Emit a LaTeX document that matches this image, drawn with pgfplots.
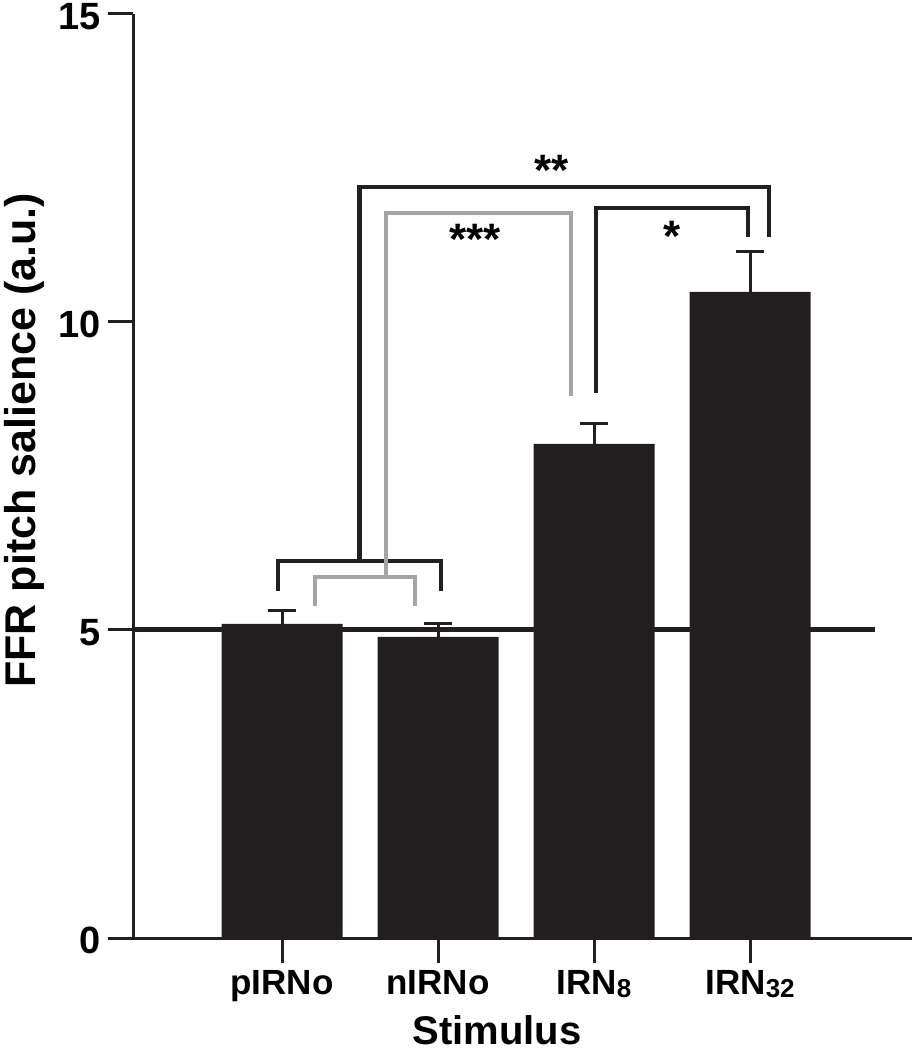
\documentclass[border=0pt]{standalone}
\usepackage{pgfplots}
\pgfplotsset{compat=1.18}
\usepackage{fontspec}
\setmainfont{Liberation Sans}
\definecolor{barblack}{RGB}{35,31,32}
\definecolor{siggray}{RGB}{163,165,168}
\newcommand{\sub}[1]{\raisebox{-1.6pt}{\fontsize{13}{13}\selectfont #1}}

% bar heights and upper error (SEM)
\pgfplotstableread{
x y e
0 5.10 0.21
1 4.89 0.21
2 8.02 0.34
3 10.49 0.66
}\ffrdata

\begin{document}
\begin{tikzpicture}
\begin{axis}[
    x=78pt, y=30.8pt,
    xmin=-0.955, xmax=4.04,
    ymin=0, ymax=15,
    axis x line=bottom, axis y line=left,
    axis line style={-, line width=1.5pt, barblack},
    xtick={0,1,2,3},
    xticklabels={pIRNo, nIRNo, IRN\sub{8}, IRN\sub{32}},
    ytick={0,5,10,15},
    tick align=outside,
    major tick length=12.5pt,
    tick style={line width=1.5pt, barblack},
    /pgf/number format/assume math mode=true,
    yticklabel style={font=\bfseries\fontsize{19}{19}\selectfont, yshift=-1.2pt},
    xticklabel style={font=\bfseries\fontsize{17.5}{17.5}\selectfont},
    clip=false,
]
% canvas corners
\coordinate (cBL) at (axis cs:-1.808,-1.818);
\coordinate (cTR) at (axis cs:4.038,15.227);

\addplot[ybar, bar width=60.5pt, fill=barblack, draw=none,
    error bars/.cd, y dir=plus, y explicit,
    error bar style={line width=1.5pt, barblack},
    error mark options={rotate=90, mark size=7pt, line width=1.5pt, barblack}]
    table[x=x, y=y, y error=e] {\ffrdata};

% reference line at 5
\addplot[barblack, line width=2.5pt] coordinates {(-0.955,5) (3.80,5)};

% significance brackets
\addplot[barblack, line width=2.2pt, line cap=butt, line join=miter]
    coordinates {(-0.026,5.63) (-0.026,6.12) (1.019,6.12) (1.019,5.63)};
\addplot[barblack, line width=2.2pt, line cap=butt, line join=miter]
    coordinates {(0.497,6.12) (0.497,12.19) (3.12,12.19) (3.12,11.38)};
\addplot[barblack, line width=2.2pt, line cap=butt, line join=miter]
    coordinates {(2.013,8.85) (2.013,11.85) (2.987,11.85) (2.987,11.38)};
\addplot[siggray, line width=2.2pt, line cap=butt, line join=miter]
    coordinates {(0.212,5.39) (0.212,5.86) (0.853,5.86) (0.853,5.39)};
\addplot[siggray, line width=2.2pt, line cap=butt, line join=miter]
    coordinates {(0.667,5.86) (0.667,11.77) (1.853,11.77) (1.853,8.80)};

\node[anchor=base, font=\bfseries\fontsize{22}{22}\selectfont] at (axis cs:1.73,12.22) {**};
\node[anchor=base, font=\bfseries\fontsize{22}{22}\selectfont] at (axis cs:1.237,11.10) {***};
\node[anchor=base, font=\bfseries\fontsize{22}{22}\selectfont] at (axis cs:2.5,11.14) {*};

\node[anchor=base, rotate=90, font=\bfseries\fontsize{21.5}{21.5}\selectfont]
    at (axis cs:-1.583,8.08) {FFR pitch salience (a.u.)};
\node[anchor=base, inner sep=0pt, font=\bfseries\fontsize{20}{20}\selectfont]
    at (axis cs:1.378,-1.73) {Stimulus};
\end{axis}
\pgfresetboundingbox
\path[use as bounding box] (cBL) rectangle (cTR);
\end{tikzpicture}
\end{document}
